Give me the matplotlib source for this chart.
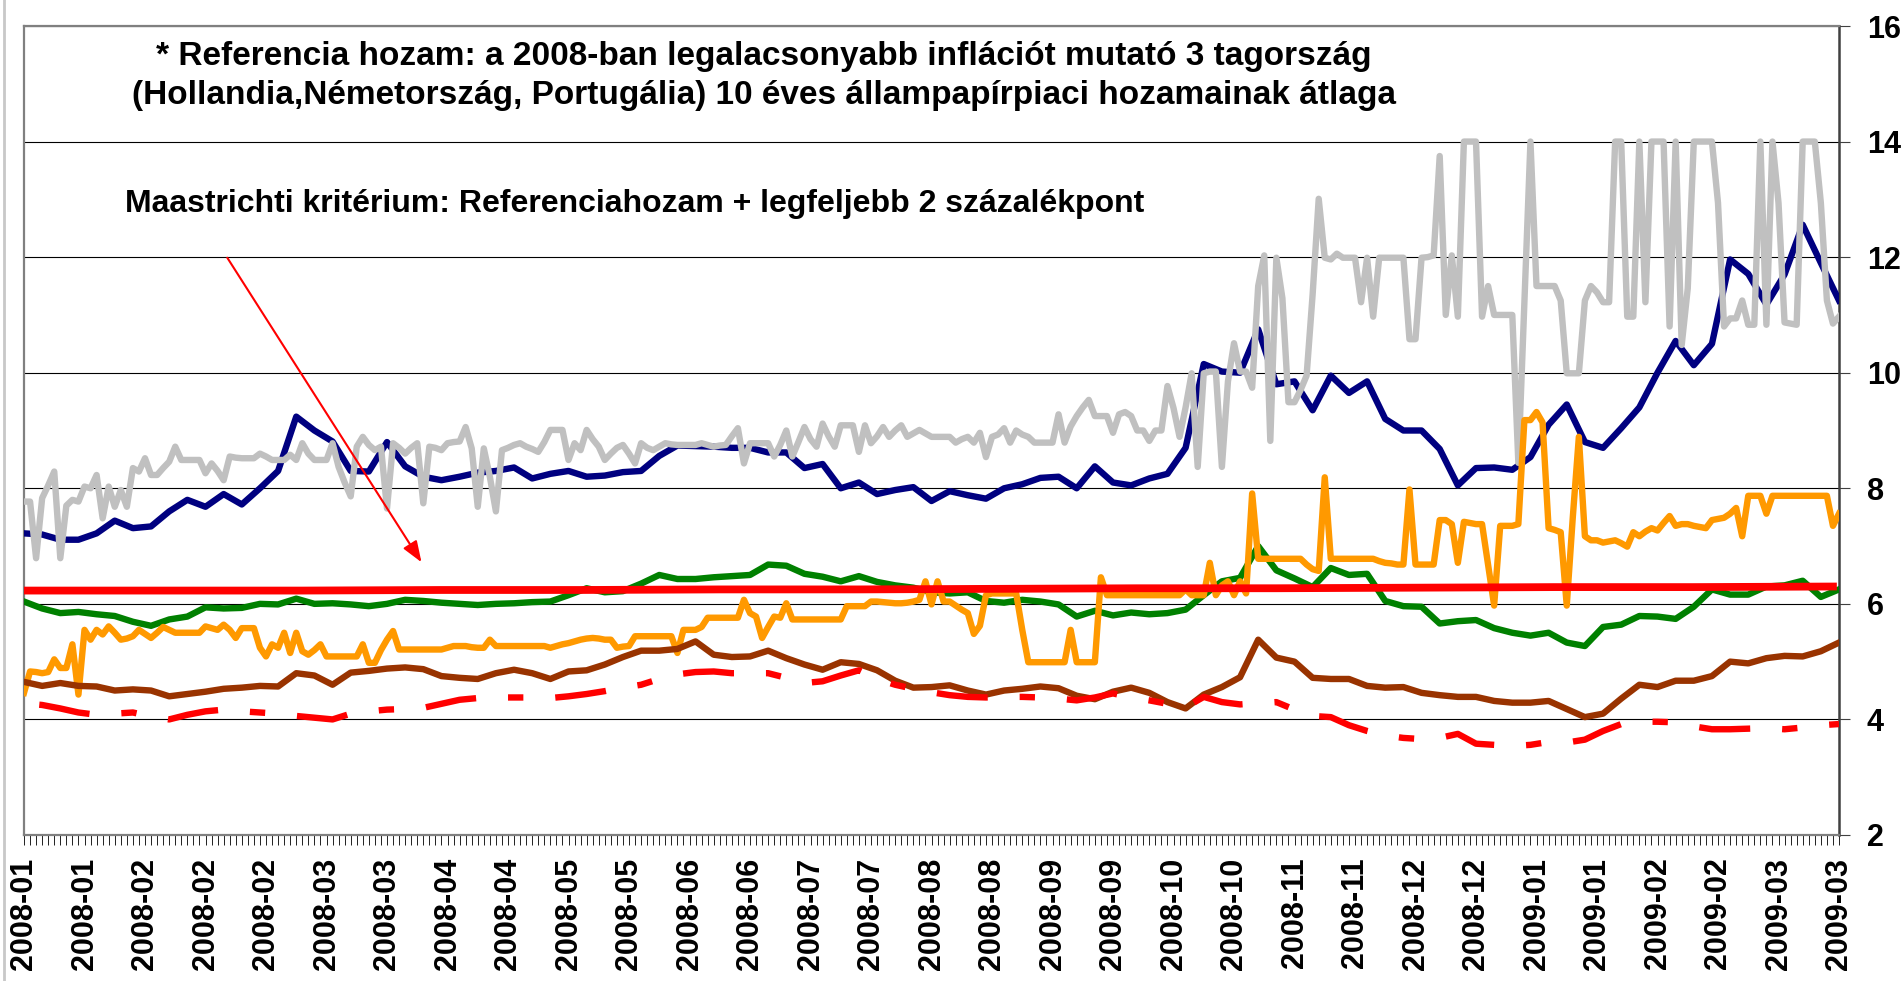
import numpy as np
import matplotlib
matplotlib.use("Agg")
import matplotlib.pyplot as plt
from matplotlib.lines import Line2D

plt.rcParams['font.family'] = ['Liberation Sans', 'DejaVu Sans']

# --- DATA (daily values, 301 business days; smooth series sampled every 3rd day) ---
tick_labels = ['2008-01', '2008-01', '2008-02', '2008-02', '2008-02', '2008-03', '2008-03',
               '2008-04', '2008-04', '2008-05', '2008-05', '2008-06', '2008-06', '2008-07',
               '2008-07', '2008-08', '2008-08', '2008-09', '2008-09', '2008-10', '2008-10',
               '2008-11', '2008-11', '2008-12', '2008-12', '2009-01', '2009-01', '2009-02',
               '2009-02', '2009-03', '2009-03']

blue = [7.22, 7.2, 7.11, 7.11, 7.22, 7.44, 7.31, 7.34, 7.6, 7.8,
        7.68, 7.9, 7.72, 8.0, 8.3, 9.24, 9.0, 8.81, 8.3, 8.29,
        8.8, 8.38, 8.2, 8.14, 8.2, 8.27, 8.3, 8.36, 8.17, 8.25,
        8.3, 8.2, 8.22, 8.28, 8.3, 8.56, 8.74, 8.73, 8.72, 8.7,
        8.7, 8.62, 8.62, 8.35, 8.42, 8.0, 8.1, 7.9, 7.97, 8.02,
        7.78, 7.95, 7.88, 7.82, 8.0, 8.07, 8.18, 8.2, 8.0, 8.38,
        8.1, 8.05, 8.17, 8.25, 8.7, 10.15, 10.02, 10.0, 10.75, 9.8,
        9.85, 9.35, 9.95, 9.65, 9.85, 9.2, 9.0, 9.0, 8.68, 8.05,
        8.35, 8.36, 8.32, 8.54, 9.1, 9.45, 8.8, 8.7, 9.04, 9.4,
        10.0, 10.55, 10.13, 10.5, 11.96, 11.71, 11.18, 11.7, 12.56, 11.9,
        11.25]

gray = [7.77, 7.77, 6.79, 7.83, 8.05, 8.29, 6.79, 7.7, 7.8, 7.77,
        8.03, 8.0, 8.23, 7.48, 8.03, 7.68, 7.97, 7.68, 8.35, 8.29,
        8.52, 8.23, 8.23, 8.35, 8.46, 8.72, 8.49, 8.49, 8.49, 8.49,
        8.26, 8.43, 8.3, 8.14, 8.55, 8.53, 8.52, 8.52, 8.52, 8.6,
        8.55, 8.49, 8.49, 8.49, 8.58, 8.49, 8.78, 8.6, 8.49, 8.49,
        8.49, 8.78, 8.37, 8.1, 7.86, 8.72, 8.89, 8.75, 8.66, 8.72,
        7.65, 8.78, 8.7, 8.6, 8.7, 8.78, 7.74, 8.72, 8.7, 8.66,
        8.78, 8.8, 8.81, 9.06, 8.69, 7.68, 8.69, 8.2, 7.6, 8.66,
        8.7, 8.75, 8.78, 8.72, 8.68, 8.63, 8.8, 9.01, 9.01, 9.01,
        8.49, 8.78, 8.66, 9.01, 8.85, 8.72, 8.49, 8.6, 8.7, 8.75,
        8.6, 8.43, 8.78, 8.7, 8.66, 8.72, 8.78, 8.76, 8.75, 8.75,
        8.75, 8.75, 8.78, 8.75, 8.72, 8.74, 8.75, 8.9, 9.04, 8.43,
        8.78, 8.78, 8.78, 8.78, 8.55, 8.75, 9.0, 8.55, 8.8, 9.06,
        8.85, 8.72, 9.12, 8.9, 8.72, 9.09, 9.09, 9.09, 8.63, 9.09,
        8.78, 8.9, 9.06, 8.89, 9.0, 9.09, 8.89, 8.95, 9.01, 8.95,
        8.89, 8.89, 8.89, 8.89, 8.79, 8.85, 8.89, 8.79, 8.96, 8.54,
        8.89, 8.93, 9.04, 8.79, 9.0, 8.93, 8.89, 8.79, 8.79, 8.79,
        8.79, 9.28, 8.79, 9.07, 9.25, 9.4, 9.53, 9.25, 9.25, 9.25,
        8.96, 9.28, 9.32, 9.25, 9.0, 9.0, 8.82, 9.0, 9.0, 9.77,
        9.39, 8.89, 9.4, 9.99, 8.37, 9.99, 10.02, 10.02, 8.37, 9.85,
        10.51, 10.02, 10.02, 9.74, 11.5, 12.03, 8.82, 11.99, 11.29, 9.49,
        9.49, 9.7, 9.95, 11.36, 13.01, 11.99, 11.96, 12.06, 11.99, 11.99,
        11.99, 11.22, 11.99, 10.97, 11.99, 11.99, 11.99, 11.99, 11.99, 10.58,
        10.58, 11.99, 12.0, 12.03, 13.75, 11.0, 12.03, 10.97, 14.0, 14.0,
        14.0, 10.97, 11.5, 11.0, 11.0, 11.0, 11.0, 8.44, 11.2, 14.0,
        11.5, 11.5, 11.5, 11.5, 11.25, 9.99, 9.99, 9.99, 11.25, 11.5,
        11.39, 11.22, 11.22, 14.0, 14.0, 10.97, 10.97, 14.0, 11.22, 14.0,
        14.0, 14.0, 10.8, 14.0, 10.48, 11.46, 14.0, 14.0, 14.0, 14.0,
        12.94, 10.8, 10.94, 10.94, 11.25, 10.83, 10.83, 14.0, 10.83, 14.0,
        12.94, 10.87, 10.85, 10.83, 14.0, 14.0, 14.0, 12.94, 11.25, 10.85,
        10.97]

orange = [4.46, 4.83, 4.82, 4.8, 4.82, 5.04, 4.89, 4.89, 5.3, 4.43,
          5.55, 5.38, 5.55, 5.47, 5.61, 5.5, 5.38, 5.4, 5.44, 5.55,
          5.48, 5.41, 5.5, 5.6, 5.55, 5.5, 5.5, 5.5, 5.5, 5.5,
          5.61, 5.58, 5.55, 5.64, 5.55, 5.41, 5.58, 5.58, 5.58, 5.24,
          5.09, 5.3, 5.24, 5.5, 5.15, 5.5, 5.18, 5.12, 5.2, 5.3,
          5.09, 5.09, 5.09, 5.09, 5.09, 5.09, 5.3, 4.98, 4.98, 5.2,
          5.38, 5.53, 5.21, 5.21, 5.21, 5.21, 5.21, 5.21, 5.21, 5.21,
          5.24, 5.27, 5.27, 5.27, 5.25, 5.24, 5.24, 5.38, 5.27, 5.27,
          5.27, 5.27, 5.27, 5.27, 5.27, 5.27, 5.27, 5.24, 5.27, 5.3,
          5.32, 5.35, 5.38, 5.4, 5.41, 5.4, 5.38, 5.38, 5.24, 5.26,
          5.27, 5.44, 5.44, 5.44, 5.44, 5.44, 5.44, 5.44, 5.15, 5.55,
          5.55, 5.55, 5.6, 5.76, 5.76, 5.76, 5.76, 5.76, 5.76, 6.07,
          5.84, 5.78, 5.41, 5.6, 5.78, 5.76, 6.01, 5.73, 5.73, 5.73,
          5.73, 5.73, 5.73, 5.73, 5.73, 5.73, 5.96, 5.96, 5.96, 5.96,
          6.04, 6.04, 6.03, 6.02, 6.01, 6.01, 6.02, 6.04, 6.07, 6.39,
          5.99, 6.39, 6.04, 6.04, 5.97, 5.9, 5.84, 5.48, 5.62, 6.15,
          6.18, 6.18, 6.18, 6.18, 6.18, 5.55, 4.99, 4.99, 4.99, 4.99,
          4.99, 4.99, 4.99, 5.55, 4.99, 4.99, 4.99, 4.99, 6.46, 6.15,
          6.15, 6.15, 6.15, 6.15, 6.15, 6.15, 6.15, 6.15, 6.15, 6.15,
          6.15, 6.15, 6.25, 6.15, 6.15, 6.15, 6.71, 6.15, 6.32, 6.39,
          6.15, 6.39, 6.18, 7.91, 6.78, 6.78, 6.78, 6.78, 6.78, 6.78,
          6.78, 6.78, 6.68, 6.6, 6.57, 8.19, 6.78, 6.78, 6.78, 6.78,
          6.78, 6.78, 6.78, 6.78, 6.74, 6.71, 6.7, 6.68, 6.68, 7.98,
          6.68, 6.68, 6.68, 6.68, 7.45, 7.45, 7.38, 6.71, 7.42, 7.4,
          7.38, 7.38, 6.68, 5.97, 7.35, 7.35, 7.35, 7.38, 9.18, 9.18,
          9.32, 9.14, 7.31, 7.28, 7.24, 5.97, 7.5, 8.89, 7.17, 7.1,
          7.1, 7.06, 7.08, 7.1, 7.05, 6.99, 7.24, 7.17, 7.25, 7.31,
          7.27, 7.4, 7.52, 7.35, 7.38, 7.38, 7.35, 7.33, 7.31, 7.45,
          7.47, 7.49, 7.56, 7.66, 7.17, 7.87, 7.87, 7.87, 7.56, 7.87,
          7.87, 7.87, 7.87, 7.87, 7.87, 7.87, 7.87, 7.87, 7.87, 7.35,
          7.56]

green = [6.04, 5.92, 5.84, 5.86, 5.82, 5.79, 5.69, 5.62, 5.73, 5.78,
         5.94, 5.92, 5.93, 6.0, 5.99, 6.09, 6.0, 6.01, 5.99, 5.96,
         6.0, 6.07, 6.05, 6.02, 6.0, 5.98, 6.0, 6.01, 6.03, 6.04,
         6.15, 6.27, 6.2, 6.22, 6.35, 6.5, 6.43, 6.43, 6.46, 6.48,
         6.5, 6.68, 6.66, 6.52, 6.47, 6.39, 6.48, 6.38, 6.32, 6.28,
         6.2, 6.18, 6.2, 6.05, 6.02, 6.07, 6.04, 5.99, 5.78, 5.88,
         5.8, 5.85, 5.82, 5.84, 5.9, 6.15, 6.39, 6.45, 7.0, 6.58,
         6.44, 6.29, 6.62, 6.5, 6.52, 6.05, 5.96, 5.95, 5.66, 5.7,
         5.72, 5.58, 5.5, 5.45, 5.5, 5.33, 5.27, 5.6, 5.64, 5.79,
         5.78, 5.74, 5.95, 6.25, 6.16, 6.16, 6.3, 6.32, 6.4, 6.12,
         6.25]

brown = [4.65, 4.58, 4.63, 4.58, 4.57, 4.5, 4.52, 4.5, 4.4, 4.44,
         4.48, 4.53, 4.55, 4.58, 4.57, 4.8, 4.76, 4.6, 4.81, 4.84,
         4.88, 4.9, 4.87, 4.75, 4.72, 4.7, 4.8, 4.86, 4.8, 4.7,
         4.83, 4.85, 4.95, 5.08, 5.19, 5.19, 5.22, 5.35, 5.12, 5.08,
         5.09, 5.19, 5.06, 4.95, 4.86, 4.99, 4.96, 4.85, 4.67, 4.55,
         4.56, 4.59, 4.5, 4.43, 4.5, 4.53, 4.57, 4.54, 4.41, 4.35,
         4.48, 4.55, 4.46, 4.3, 4.19, 4.43, 4.56, 4.73, 5.38, 5.07,
         5.0, 4.72, 4.7, 4.7, 4.58, 4.55, 4.56, 4.46, 4.42, 4.39,
         4.39, 4.32, 4.29, 4.29, 4.32, 4.18, 4.04, 4.1, 4.36, 4.6,
         4.56, 4.67, 4.67, 4.75, 5.0, 4.97, 5.06, 5.1, 5.09, 5.18,
         5.33]

reference = [4.28, 4.25, 4.19, 4.12, 4.08, 4.1, 4.12, 4.05, 4.0, 4.08,
             4.14, 4.17, 4.14, 4.12, 4.1, 4.06, 4.03, 4.0, 4.1, 4.14,
             4.17, 4.18, 4.2, 4.27, 4.34, 4.37, 4.38, 4.38, 4.38, 4.37,
             4.4, 4.44, 4.49, 4.55, 4.6, 4.7, 4.78, 4.82, 4.83, 4.8,
             4.8, 4.8, 4.72, 4.63, 4.66, 4.76, 4.85, 4.7, 4.6, 4.53,
             4.47, 4.42, 4.39, 4.38, 4.39, 4.39, 4.38, 4.36, 4.33, 4.38,
             4.45, 4.38, 4.33, 4.27, 4.21, 4.39, 4.3, 4.26, 4.28, 4.3,
             4.17, 4.06, 4.04, 3.9, 3.8, 3.72, 3.68, 3.66, 3.68, 3.75,
             3.58, 3.56, 3.54, 3.56, 3.61, 3.6, 3.65, 3.8, 3.92, 3.96,
             3.96, 3.95, 3.88, 3.83, 3.83, 3.84, 3.85, 3.83, 3.86, 3.9,
             3.92]

# Maastricht criterion, sampled every 23 days
criterion = [6.23, 6.23, 6.23, 6.24, 6.24, 6.25, 6.25, 6.26, 6.27, 6.27,
             6.28, 6.29, 6.29, 6.30]


def days(series, step):
    return np.arange(len(series)) * step


W, H = 1903, 981
fig = plt.figure(figsize=(W / 100, H / 100), dpi=100)
# plot area in pixels: left 24, right 1839, top 26, bottom 835
ax = fig.add_axes([24 / W, (H - 835) / H, (1839 - 24) / W, (835 - 26) / H])

LW = 4.6
ax.plot(days(blue, 3), blue, color='#000080', lw=LW, solid_joinstyle='round', zorder=3)
ax.plot(days(gray, 1), gray, color='#C0C0C0', lw=LW, solid_joinstyle='round', zorder=4)
ax.plot(days(green, 3), green, color='#008000', lw=LW, solid_joinstyle='round', zorder=5)
ax.plot(days(orange, 1), orange, color='#FF9900', lw=LW, solid_joinstyle='round', zorder=6)
ax.plot(days(brown, 3), brown, color='#993300', lw=LW, solid_joinstyle='round', zorder=7)
ax.plot(days(reference, 3), reference, color='#FF0000', lw=4.6,
        ls=(18.0, (8.0, 5.0, 2.4, 5.0)), dash_capstyle='butt', zorder=8)
ax.plot(days(criterion, 23), criterion, color='#FF0000', lw=5.6, zorder=9)

ax.set_xlim(0, 300)
ax.set_ylim(2, 16)

# right-hand value axis
ax.yaxis.tick_right()
ax.set_yticks(np.arange(2, 17, 2))
ax.set_yticklabels([str(v) for v in range(2, 17, 2)], fontsize=22, fontweight='bold')
ax.tick_params(axis='y', direction='out', length=8, width=0.8, color='#404040', pad=12)
ax.grid(axis='y', color='black', lw=0.8, zorder=1)

# category axis
ax.set_xticks(np.arange(0, 301, 10))
ax.set_xticklabels(tick_labels, rotation=90, fontsize=22, fontweight='bold', va='top', ha='center')
ax.set_xticks(np.arange(0, 301, 1), minor=True)
ax.tick_params(axis='x', which='both', direction='out', length=7.2, width=0.7, color='#202020', pad=9)

for side in ['top', 'left', 'bottom']:
    ax.spines[side].set_color('#808080')
    ax.spines[side].set_linewidth(1.6)
ax.spines['right'].set_color('#404040')
ax.spines['right'].set_linewidth(1.8)
ax.set_axisbelow(True)

# outer chart border on the left
fig.add_artist(Line2D([4 / W, 4 / W], [0, 1], color='#C8C8C8', lw=2, transform=fig.transFigure))

# notes
fig.text(764 / W, 1 - 76 / H,
         "* Referencia hozam: a 2008-ban legalacsonyabb inflációt mutató 3 tagország\n"
         "(Hollandia,Németország, Portugália) 10 éves állampapírpiaci hozamainak átlaga",
         ha='center', va='center', multialignment='center', fontsize=24, fontweight='bold',
         linespacing=1.35)
fig.text(125 / W, 1 - 204 / H,
         "Maastrichti kritérium: Referenciahozam + legfeljebb 2 százalékpont",
         ha='left', va='center', fontsize=23, fontweight='bold')

ax.annotate('', xy=(65.7, 6.72), xytext=(33.6, 11.99),
            arrowprops=dict(arrowstyle='-|>,head_length=0.4,head_width=0.15',
                            color='#FF0000', lw=1.5, mutation_scale=32, shrinkA=0, shrinkB=0),
            zorder=10)

fig.savefig('out.png', dpi=100)
